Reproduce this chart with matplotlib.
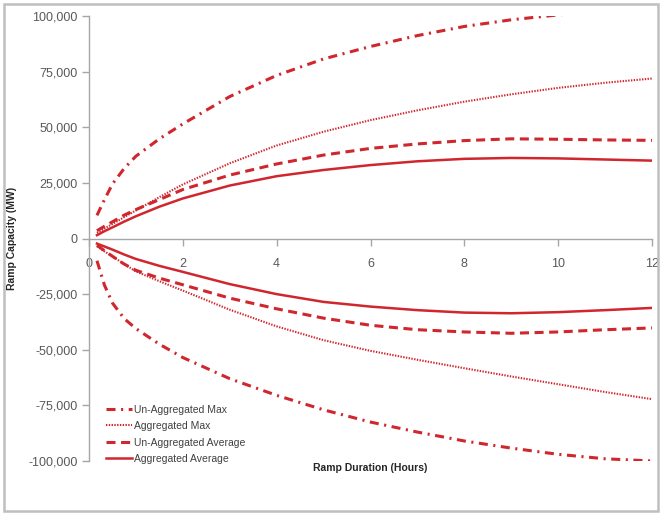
import matplotlib
matplotlib.use("Agg")
import matplotlib.pyplot as plt
from matplotlib.ticker import FuncFormatter, MultipleLocator
from matplotlib.patches import Rectangle

# ---- data (MW) ----
hours = [0.17, 0.33, 0.5, 0.75, 1, 1.5, 2, 3, 4, 5, 6, 7, 8, 9, 10, 11, 12]

unagg_max_up = [10400, 17500, 24500, 31500, 37000, 44800, 51500, 63800, 73300,
                80700, 86300, 91200, 95300, 98300, 100500, 102300, 103800]
unagg_max_dn = [-10000, -21000, -29000, -36000, -40500, -47500, -53500, -63000, -70500,
                -77000, -82500, -87000, -91000, -94200, -97000, -99000, -100000]

agg_max_up = [2500, 4500, 6500, 9600, 12600, 18600, 24300, 33800, 41800,
              48000, 53200, 57600, 61500, 64800, 67700, 70000, 71900]
agg_max_dn = [-3500, -5800, -8000, -11500, -14800, -19200, -23400, -32000, -39500,
              -45700, -50500, -54500, -58300, -62000, -65500, -69000, -72200]

unagg_avg_up = [3500, 5500, 7500, 10500, 13000, 17500, 22000, 28500, 33500,
                37500, 40500, 42500, 44000, 44800, 44600, 44300, 44100]
unagg_avg_dn = [-3000, -5500, -8000, -11500, -14300, -17800, -20800, -26800, -31600,
                -35800, -39000, -41000, -42000, -42600, -42000, -41000, -40200]

agg_avg_up = [1500, 3300, 5000, 7600, 10000, 14300, 18000, 23800, 28000,
              30800, 33000, 34700, 35800, 36200, 36000, 35500, 35000]
agg_avg_dn = [-2300, -3600, -5000, -7200, -9200, -12300, -15000, -20500, -25000,
              -28500, -30600, -32200, -33300, -33600, -33100, -32200, -31200]

labels = ["Un-Aggregated Max", "Aggregated Max",
          "Un-Aggregated Average", "Aggregated Average"]

# ---- style ----
plt.rcParams["font.family"] = ["Liberation Sans", "DejaVu Sans"]
plt.rcParams["lines.scale_dashes"] = False
red = "#d0262d"
grey = "#a6a6a6"
txt = "#595959"

fig = plt.figure(figsize=(6.6, 5.14), dpi=100)
ax = fig.add_axes([89 / 660, 1 - 461 / 514, (652 - 89) / 660, (461 - 16) / 514])

styles = [
    dict(lw=2.2, dashes=(6.5, 4, 1.5, 4), dash_capstyle="butt"),
    dict(lw=1.5, dashes=(1.0, 1.0), dash_capstyle="butt"),
    dict(lw=2.2, dashes=(6.5, 4), dash_capstyle="butt"),
    dict(lw=1.8),
]
series = [(unagg_max_up, unagg_max_dn), (agg_max_up, agg_max_dn),
          (unagg_avg_up, unagg_avg_dn), (agg_avg_up, agg_avg_dn)]

for (up, dn), st, lab in zip(series, styles, labels):
    ax.plot(hours, up, color=red, label=lab, **st)
    ax.plot(hours, dn, color=red, **st)

ax.set_xlim(0, 12)
ax.set_ylim(-100000, 100000)
ax.xaxis.set_major_locator(MultipleLocator(2))
ax.yaxis.set_major_locator(MultipleLocator(25000))
ax.yaxis.set_major_formatter(FuncFormatter(lambda v, p: f"{int(v):,}"))

# axis at y = 0, labels stay below
ax.spines["bottom"].set_position(("data", 0))
ax.spines["top"].set_visible(False)
ax.spines["right"].set_visible(False)
for s in ("left", "bottom"):
    ax.spines[s].set_color(grey)
    ax.spines[s].set_linewidth(1.0)
ax.tick_params(axis="both", colors=grey, labelcolor=txt, labelsize=9,
               length=5, width=1, direction="out")
ax.tick_params(axis="x", pad=9)
ax.tick_params(axis="y", pad=3)

fig.text(12 / 660, 1 - 238 / 514, "Ramp Capacity (MW)", rotation=90,
         ha="center", va="center", fontsize=7.5, fontweight="bold", color="#262626")
fig.text(370 / 660, 1 - 468 / 514, "Ramp Duration (Hours)",
         ha="center", va="center", fontsize=7.5, fontweight="bold", color="#262626")

leg = fig.legend(loc="lower left", bbox_to_anchor=(106 / 660, 1 - 464 / 514),
                 frameon=False, fontsize=7.5, handlelength=2.5, handletextpad=0.2,
                 labelspacing=0.62, borderpad=0, borderaxespad=0)
for t in leg.get_texts():
    t.set_color("#404040")

# outer frame
fig.add_artist(Rectangle((4 / 660, 3 / 514), 654 / 660, 507 / 514,
                         transform=fig.transFigure, fill=False,
                         edgecolor="#bfbfbf", linewidth=1.8))

fig.savefig("out.png", dpi=100)
